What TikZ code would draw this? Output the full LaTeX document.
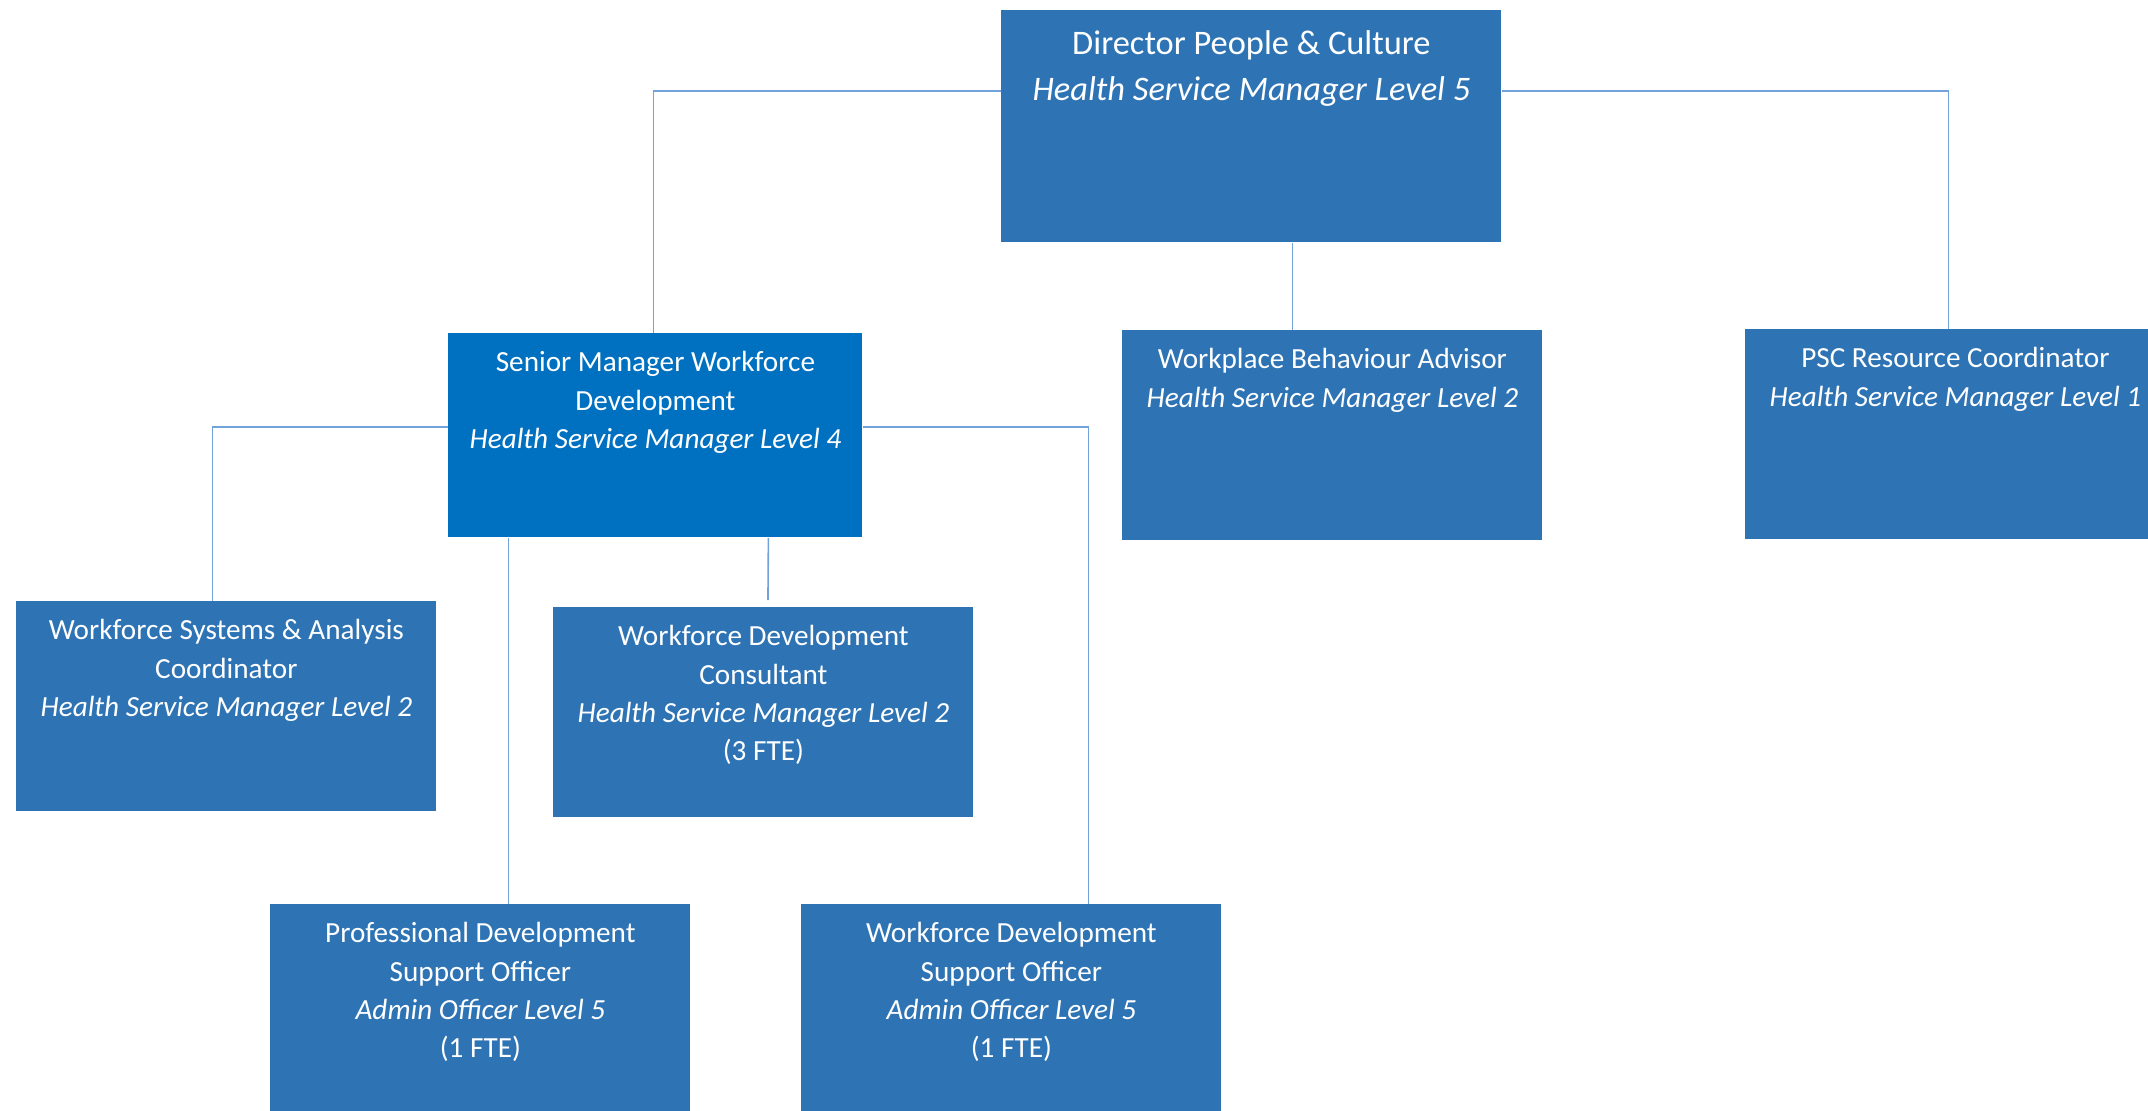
\documentclass[tikz,border=0pt]{standalone}
\usepackage{fontspec}
\setmainfont{Carlito}
\definecolor{boxblue}{HTML}{2E74B5}
\definecolor{senblue}{HTML}{0070C0}
\definecolor{linkblue}{HTML}{6FA3DA}
\begin{document}
\begin{tikzpicture}[x=0.5pt,y=-0.5pt,
  box/.style={rectangle, fill=boxblue, draw=none, anchor=north west, inner sep=0pt,
              minimum width=210pt, minimum height=105pt},
  txt/.style={anchor=north, inner sep=0pt, align=center, text=white,
              font=\fontsize{14.6}{19.2}\selectfont},
  bigtxt/.style={anchor=north, inner sep=0pt, align=center, text=white,
              font=\fontsize{17.2}{23}\selectfont},
  link/.style={draw=linkblue, line width=0.8pt}]
\useasboundingbox (0,0) rectangle (2148,1110);
\clip (0,0) rectangle (2148,1110);
\fill[white] (0,0) rectangle (2148,1110);

% boxes
\node[box, minimum width=250pt, minimum height=116pt] (dir) at (1001,10) {};
\node[box, fill=senblue, minimum width=207pt, minimum height=102pt] (sen) at (448,333) {};
\node[box] (wba) at (1122,330) {};
\node[box] (psc) at (1745,329) {};
\node[box] (wsa) at (16,601) {};
\node[box] (wdc) at (553,607) {};
\node[box, minimum height=120pt] (pdso) at (270,904) {};
\node[box, minimum height=120pt] (wdso) at (801,904) {};

% texts
\node[bigtxt] (dirT) at ([yshift=-10pt]dir.north) {Director People \& Culture\\\textit{Health Service Manager Level 5}};
\node[txt] (senT) at ([yshift=-9pt]sen.north) {Senior Manager Workforce\\Development\\\textit{Health Service Manager Level 4}};
\node[txt] (wbaT) at ([yshift=-9pt]wba.north) {Workplace Behaviour Advisor\\\textit{Health Service Manager Level 2}};
\node[txt] (pscT) at ([yshift=-9pt]psc.north) {PSC Resource Coordinator\\\textit{Health Service Manager Level 1}};
\node[txt] (wsaT) at ([yshift=-9pt]wsa.north) {Workforce Systems \& Analysis\\Coordinator\\\textit{Health Service Manager Level 2}};
\node[txt] (wdcT) at ([yshift=-9pt]wdc.north) {Workforce Development\\Consultant\\\textit{Health Service Manager Level 2}\\(3 FTE)};
\node[txt] (pdsoT) at ([yshift=-9pt]pdso.north) {Professional Development\\Support Officer\\\textit{Admin Officer Level 5}\\(1 FTE)};
\node[txt] (wdsoT) at ([yshift=-9pt]wdso.north) {Workforce Development\\Support Officer\\\textit{Admin Officer Level 5}\\(1 FTE)};

% connectors
\draw[link] (dir.north west) ++(0,81) -| ([xshift=-1pt]sen.north);
\draw[link] (dir.north east) ++(0,81) -| ([xshift=-3.5pt]psc.north);
\draw[link] ([xshift=20.5pt]dir.south) -- ([xshift=-20pt]wba.north);
\draw[link] (sen.north west) ++(0,94) -| ([xshift=-7pt]wsa.north);
\draw[link] (sen.north east) ++(0,94) -| ([xshift=38.5pt]wdso.north);
\draw[link] ([xshift=-73.5pt]sen.south) -- ([xshift=14pt]pdso.north);
\draw[link, shorten >=3.5pt] ([xshift=56.5pt]sen.south) -- ([xshift=2.25pt]wdc.north);
\end{tikzpicture}
\end{document}
